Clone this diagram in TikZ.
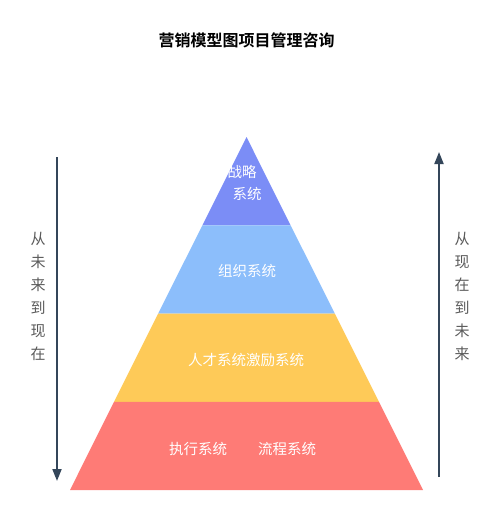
\documentclass[tikz,border=0pt]{standalone}
\usepackage{fontspec}
\setmainfont{Noto Sans CJK SC}
\newfontfamily\cjkb{Noto Sans CJK SC Bold}
\usetikzlibrary{arrows.meta}
\definecolor{tierA}{HTML}{7B8DF6}
\definecolor{tierB}{HTML}{8CBEFB}
\definecolor{tierC}{HTML}{FECA58}
\definecolor{tierD}{HTML}{FE7B76}
\definecolor{arrowc}{HTML}{34465A}
\definecolor{sidetxt}{HTML}{5A5A5A}
\tikzset{
  tierlabel/.style={text=white, font=\fontsize{14.5}{16}\selectfont, inner sep=0pt, align=center},
  sidelabel/.style={text=sidetxt, font=\fontsize{15}{23}\selectfont, inner sep=0pt, align=center},
  timearrow/.style={draw=arrowc, line width=1.8pt, -{Triangle[length=12pt,width=9pt]}},
}
\begin{document}
\begin{tikzpicture}[x=1pt,y=-1pt]
\useasboundingbox (0,0) rectangle (500,508);
% pyramid coordinates
\coordinate (apex) at (246.5,137);
\coordinate (l1) at (202.4,225.25); \coordinate (r1) at (290.6,225.25);
\coordinate (l2) at (158.2,313.5);  \coordinate (r2) at (334.8,313.5);
\coordinate (l3) at (114.1,401.75); \coordinate (r3) at (378.9,401.75);
\coordinate (l4) at (70,490);       \coordinate (r4) at (423,490);
\fill[tierA] (apex) -- (r1) -- (l1) -- cycle;
\fill[tierB] (l1) -- (r1) -- (r2) -- (l2) -- cycle;
\fill[tierC] (l2) -- (r2) -- (r3) -- (l3) -- cycle;
\fill[tierD] (l3) -- (r3) -- (r4) -- (l4) -- cycle;
% title
\node[font=\cjkb\fontsize{16}{18}\selectfont, inner sep=0pt] (title) at (246.5,40) {营销模型图项目管理咨询};
% labels
\node[tierlabel] (zl1) at (242,172) {战略};
\node[tierlabel] (zl2) at (247,194) {系统};
\node[tierlabel] (zz) at (247,271) {组织系统};
\node[tierlabel] (rc) at (246,360) {人才系统激励系统};
\node[tierlabel] (zx) at (198,449) {执行系统};
\node[tierlabel] (lc) at (287,449) {流程系统};
% arrows
\coordinate (ltop) at (57,157);
\coordinate (lbot) at (57,481);
\coordinate (rbot) at (439,477);
\coordinate (rtop) at (439,152);
\draw[timearrow] (ltop) -- (lbot);
\draw[timearrow] (rbot) -- (rtop);
\node[sidelabel] (lt) at (38,296) {从\\未\\来\\到\\现\\在};
\node[sidelabel] (rt) at (462,296) {从\\现\\在\\到\\未\\来};
\end{tikzpicture}
\end{document}
